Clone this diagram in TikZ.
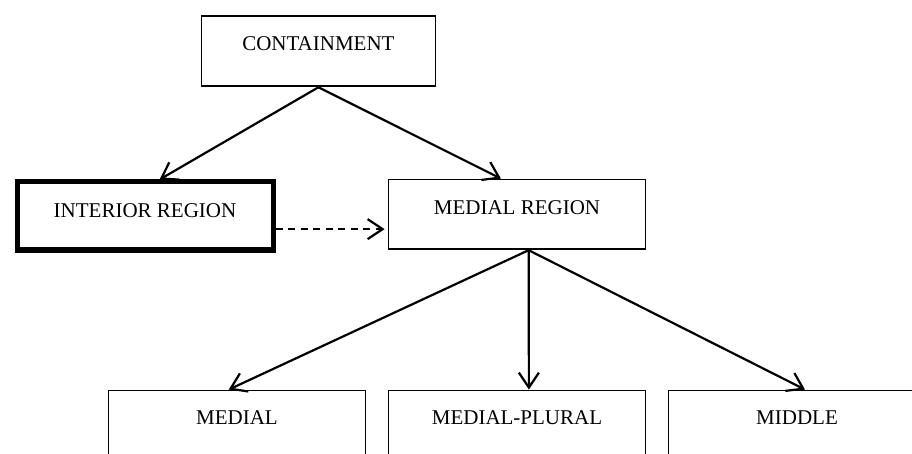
\documentclass[tikz,border=0pt]{standalone}
\usepackage{fontspec}
\setmainfont{Liberation Serif}
\usetikzlibrary{arrows.meta,calc}

\begin{document}
\begin{tikzpicture}[x=1pt,y=-1pt,
  box/.style={draw, rectangle, line width=1.8pt, inner sep=0pt,
    minimum width=257pt, text height=35pt, text depth=35pt,
    font=\fontsize{21}{24}\selectfont, anchor=north west},
  link/.style={line width=2.2pt, -{Straight Barb[length=15pt,width=20pt]}},
]
\useasboundingbox (0,0) rectangle (912,454);
\fill[white] (0,0) rectangle (912,454);
\clip (0,0) rectangle (912,454);

% top and middle rows
\node[box, minimum width=234pt, text height=34.5pt, text depth=35.5pt]
  (cont) at (200.5,15.5) {CONTAINMENT};
\node[box, line width=5pt, minimum width=256pt, text height=35.5pt, text depth=32.5pt]
  (inter) at (14.5,179.5) {INTERIOR REGION};
\node[box, text height=35.4pt, text depth=34.4pt]
  (medreg) at (387.6,178.6) {MEDIAL REGION};

% bottom row (runs past the lower edge)
\node[box, text height=34.4pt] (medial) at (107.6,389.6) {MEDIAL};
\node[box, text height=34.4pt] (plural) at (387.6,389.6) {MEDIAL-PLURAL};
\node[box, text height=34.4pt] (middle) at (667.6,389.6) {MIDDLE};

% connectors
\draw[link] (cont.south) -- ($(inter.north west)!0.556!(inter.north east)$);
\draw[link] (cont.south) -- ($(medreg.north west)!0.438!(medreg.north east)$);

\coordinate (fork) at ($(medreg.south west)!0.545!(medreg.south east)$);
\draw[link] (fork) -- ($(medial.north west)!0.468!(medial.north east)$);
\draw[link] (fork) -- ($(plural.north west)!0.546!(plural.north east)$);
\draw[link] (fork) -- ($(middle.north west)!0.531!(middle.north east)$);

\coordinate (dashstart) at ($(inter.north east)!0.68!(inter.south east)$);
\draw[link, dash pattern=on 7pt off 5.5pt, shorten >=3pt]
  (dashstart) -- (dashstart -| medreg.west);
\end{tikzpicture}
\end{document}
